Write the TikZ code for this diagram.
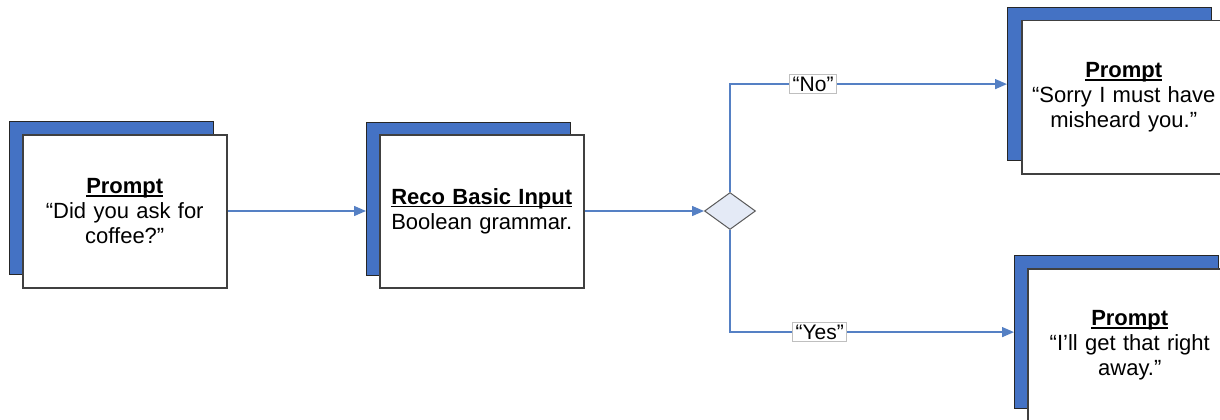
\documentclass[tikz,border=0pt]{standalone}
\usepackage{fontspec}
\setmainfont{Liberation Sans}
\usetikzlibrary{shapes.geometric,arrows.meta}
\definecolor{backblue}{HTML}{4472C4}
\definecolor{linkblue}{HTML}{5580C4}
\definecolor{diafill}{HTML}{E4EAF6}
\newcommand\myul[1]{\setbox0\hbox{#1}\rlap{\rule[-3pt]{\wd0}{1.3pt}}\box0}
\begin{document}
\begin{tikzpicture}[x=1pt,y=-1pt,
  backbox/.style={draw=black!85, line width=1.2pt, fill=backblue, minimum width=204pt, minimum height=153pt, inner sep=0pt, anchor=north west},
  frontbox/.style={draw=black!75, line width=1.5pt, fill=white, minimum width=204pt, minimum height=153pt, inner sep=0pt, align=center, font=\fontsize{22}{25}\selectfont, anchor=north west, text width=200pt},
  link/.style={draw=linkblue, line width=1.4pt, -{Triangle[length=12pt,width=10pt]}},
  lbl/.style={draw=black!25, fill=white, line width=0.8pt, font=\fontsize{21}{24}\selectfont, inner xsep=3pt, inner ysep=2pt},
  dec/.style={diamond, draw=black!65, fill=diafill, line width=1pt, minimum width=51pt, minimum height=37pt, inner sep=0pt, aspect=1.38}
]
\useasboundingbox (0,0) rectangle (1220,420);
\clip (0,0) rectangle (1220,420);

\node[backbox] (b1back) at (9,121) {};
\node[frontbox] (b1) at (22,134) {\myul{\textbf{Prompt}}\\“Did you ask for\\coffee?”};

\node[backbox] (b2back) at (366,122) {};
\node[frontbox] (b2) at (379,134) {\myul{\textbf{Reco Basic Input}}\\Boolean grammar.};

\node[backbox] (b3back) at (1007,7) {};
\node[frontbox] (b3) at (1021,20) {\myul{\textbf{Prompt}}\\“Sorry I must have\\misheard you.”};

\node[backbox] (b4back) at (1014,255) {};
\node[frontbox] (b4) at (1027,268) {\myul{\textbf{Prompt}}\\“I’ll get that right\\away.”};

\node[dec] (d) at (730,211) {};

\draw[link] (b1.east |- d.west) -- (d.west -| b2back.west);
\draw[link] (d.west -| b2.east) -- (d.west);
\draw[link] (d.north) |- node[lbl,pos=0.65] {“No”} (b3back.west);
\draw[link] (d.south) |- node[lbl,pos=0.658] {“Yes”} (b4back.west);
\end{tikzpicture}
\end{document}
